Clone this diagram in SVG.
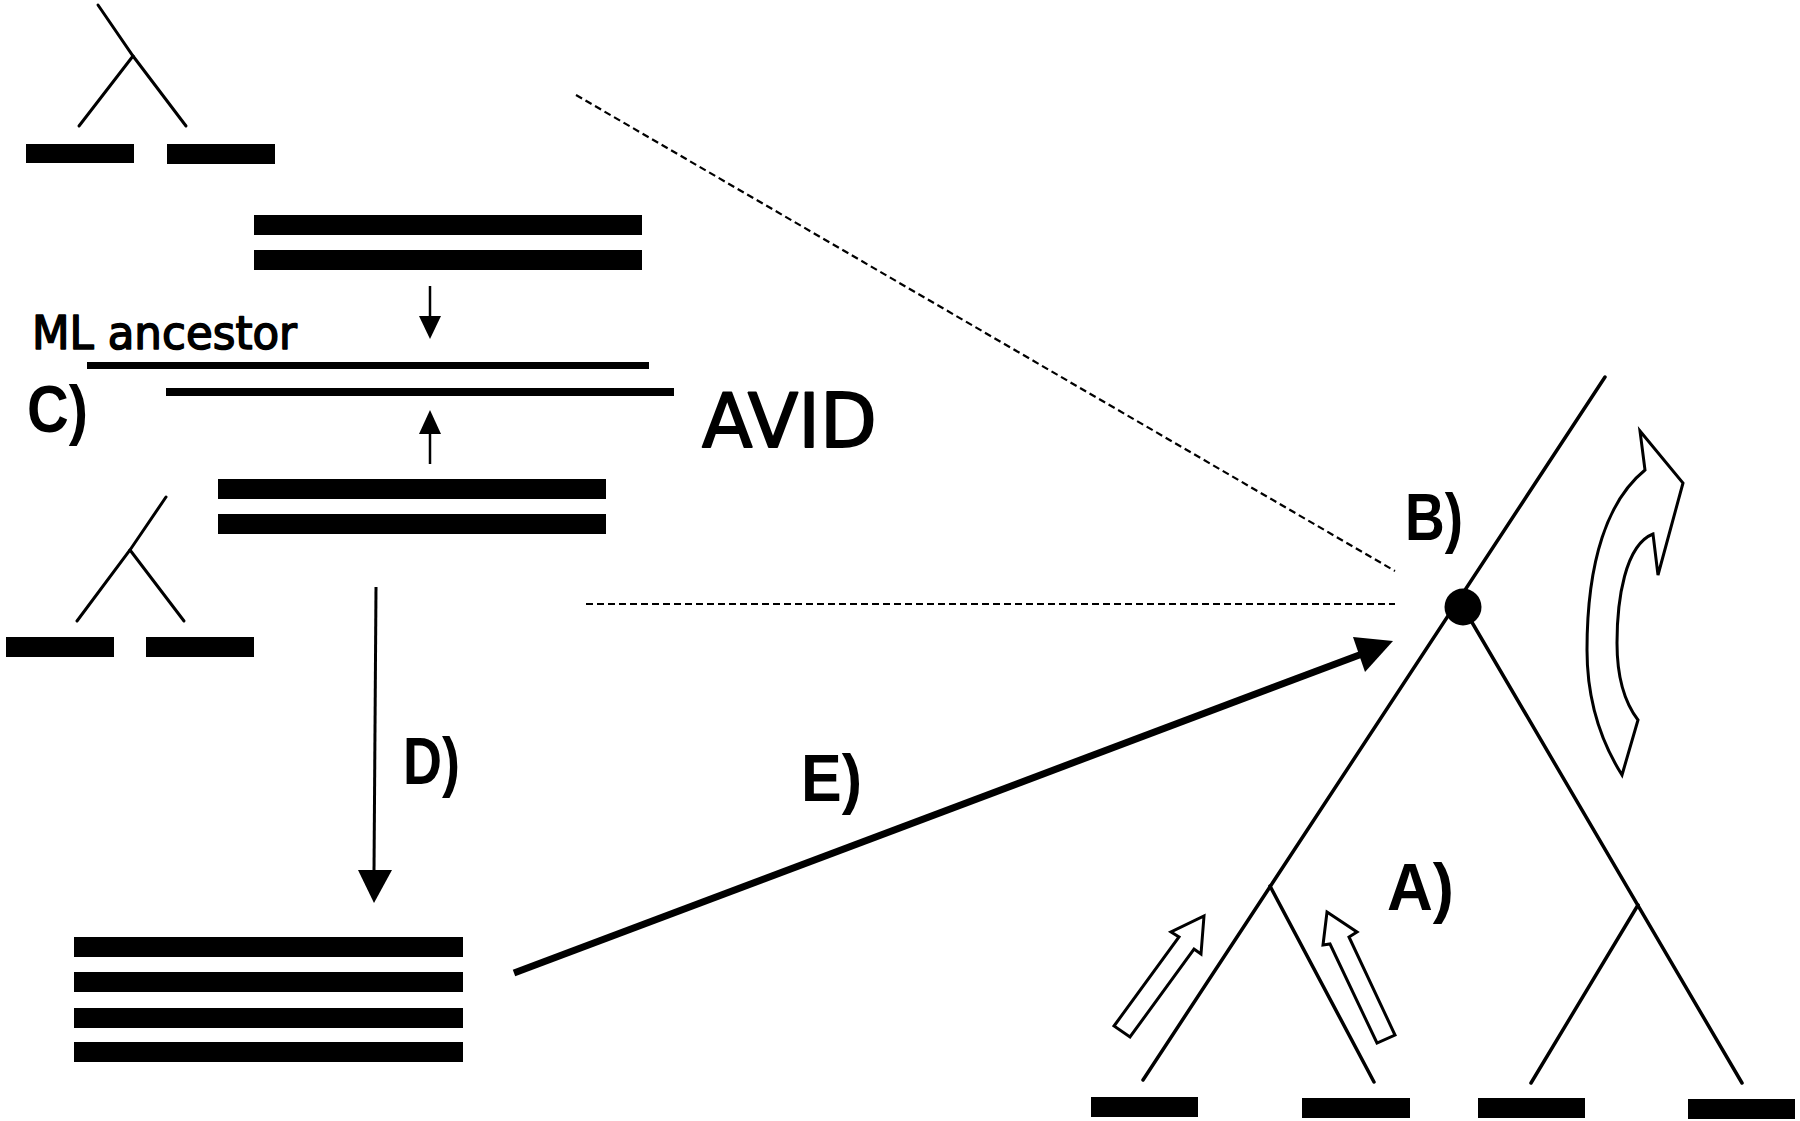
<svg xmlns="http://www.w3.org/2000/svg" width="1800" height="1121" viewBox="0 0 1800 1121">
<style>
.bg{fill:#fff}
.bar{fill:#000}
.tree{stroke:#000;stroke-width:3;fill:none;stroke-linecap:round}
.big{stroke:#000;stroke-width:3.5;fill:none;stroke-linecap:round}
.dash{stroke:#000;stroke-width:2.2;stroke-dasharray:7 4;fill:none}
.hollow{fill:#fff;stroke:#000;stroke-width:3;stroke-linejoin:miter}
.lbl{font-family:"Liberation Sans",Arial,sans-serif;font-weight:bold;font-size:66px;fill:#000}
.hand{font-family:"DejaVu Sans","Liberation Sans",sans-serif;fill:#000;stroke:#000;stroke-linejoin:round}
</style>
<rect class="bg" x="0" y="0" width="1800" height="1121"/>

<g id="top-tree">
  <polyline class="tree" points="98,5 133,56 186,126"/>
  <line class="tree" x1="133" y1="56" x2="79" y2="126"/>
  <rect class="bar" x="26" y="144" width="108" height="19"/>
  <rect class="bar" x="167" y="144" width="108" height="20"/>
</g>

<g id="top-alignment">
  <rect class="bar" x="254" y="215" width="388" height="20"/>
  <rect class="bar" x="254" y="250" width="388" height="20"/>
</g>

<g id="ml-ancestor">
  <text class="hand" x="32" y="349" font-size="46" stroke-width="1.6" textLength="265" lengthAdjust="spacingAndGlyphs">ML ancestor</text>
  <rect class="bar" x="87" y="362" width="562" height="7"/>
</g>

<g id="avid">
  <rect class="bar" x="166" y="388" width="508" height="8"/>
  <text class="hand" x="702" y="447" font-size="74" stroke-width="1.8" textLength="175" lengthAdjust="spacingAndGlyphs">AVID</text>
</g>

<g id="label-C"><text class="lbl" x="27" y="432" textLength="61" lengthAdjust="spacingAndGlyphs">C)</text></g>

<g id="bottom-alignment">
  <rect class="bar" x="218" y="479" width="388" height="20"/>
  <rect class="bar" x="218" y="514" width="388" height="20"/>
</g>

<g id="lower-tree">
  <polyline class="tree" points="166,497 130,550 77,621"/>
  <line class="tree" x1="130" y1="550" x2="184" y2="621"/>
  <rect class="bar" x="6" y="637" width="108" height="20"/>
  <rect class="bar" x="146" y="637" width="108" height="20"/>
</g>

<g id="label-D"><text class="lbl" x="403" y="784" textLength="57" lengthAdjust="spacingAndGlyphs">D)</text></g>
<g id="label-E"><text class="lbl" x="801" y="801" textLength="61" lengthAdjust="spacingAndGlyphs">E)</text></g>

<g id="four-alignment">
  <rect class="bar" x="74" y="937" width="389" height="20"/>
  <rect class="bar" x="74" y="972" width="389" height="20"/>
  <rect class="bar" x="74" y="1008" width="389" height="20"/>
  <rect class="bar" x="74" y="1042" width="389" height="20"/>
</g>

<g id="big-tree">
  <line class="big" x1="1605" y1="377" x2="1143" y2="1080"/>
  <line class="big" x1="1463" y1="607" x2="1742" y2="1083"/>
  <line class="big" x1="1270" y1="886" x2="1374" y2="1082"/>
  <line class="big" x1="1638" y1="905" x2="1531" y2="1083"/>
  <circle cx="1463" cy="607" r="18.5" fill="#000"/>
  <rect class="bar" x="1091" y="1097" width="107" height="20"/>
  <rect class="bar" x="1302" y="1098" width="108" height="20"/>
  <rect class="bar" x="1478" y="1098" width="107" height="20"/>
  <rect class="bar" x="1688" y="1099" width="107" height="20"/>
</g>

<g id="label-B"><text class="lbl" x="1405" y="540" textLength="58" lengthAdjust="spacingAndGlyphs">B)</text></g>
<g id="label-A"><text class="lbl" x="1387" y="910" textLength="67" lengthAdjust="spacingAndGlyphs">A)</text></g>

<g id="rotate-arrow">
  <path class="hollow" d="M1640,431 L1683,483 L1658,575 L1653,534 C1625,545 1617,600 1617,643 C1617,680 1625,703 1638,720 L1622,775 C1600,740 1587,700 1587,650 C1587,560 1608,500 1645,470 Z"/>
</g>

<g id="branch-arrows">
  <polygon class="hollow" points="1204,916 1201,954 1194,949 1130,1037 1114,1026 1179,937 1171,932"/>
  <polygon class="hollow" points="1327,912 1357,932 1349,937 1395,1035 1377,1043 1330,944 1323,945"/>
</g>

<g id="connectors">
  <line x1="430" y1="286" x2="430" y2="318" stroke="#000" stroke-width="2.5"/>
  <polygon points="419,316 441,316 430,339" fill="#000"/>
  <line x1="430" y1="464" x2="430" y2="432" stroke="#000" stroke-width="2.5"/>
  <polygon points="419,434 441,434 430,410" fill="#000"/>
  <line x1="376" y1="587" x2="374" y2="872" stroke="#000" stroke-width="3"/>
  <polygon points="358,870 392,870 374,903" fill="#000"/>
  <line x1="514" y1="973" x2="1362" y2="654" stroke="#000" stroke-width="7"/>
  <polygon points="1393,641 1353,637 1365,672" fill="#000"/>
  <line class="dash" x1="576" y1="95" x2="1395" y2="571"/>
  <line class="dash" x1="586" y1="604" x2="1395" y2="604"/>
</g>
</svg>
